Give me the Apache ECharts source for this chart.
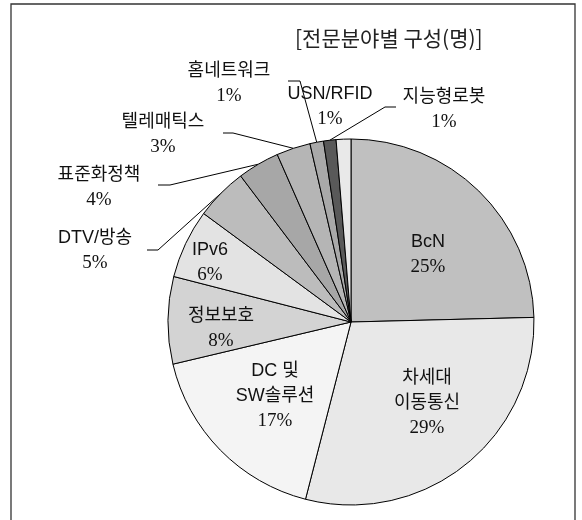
<!DOCTYPE html>
<html><head><meta charset="utf-8">
<script src="https://cdn.jsdelivr.net/npm/echarts@6/dist/echarts.min.js"></script>
<style>html,body{margin:0;padding:0;background:#fff}#c{width:582px;height:520px}</style>
</head><body><div id="c"></div>
<script>
const chartTitle = '[전문분야별 구성(명)]';
const categories = ['BcN', '차세대\n이동통신', 'DC 및\nSW솔루션', '정보보호', 'IPv6', 'DTV/방송', '표준화정책', '텔레매틱스', '홈네트워크', '지능형로봇', 'USN/RFID'];
const shares = [24.6, 29.4, 17.3, 7.7, 6.1, 4.6, 3.7, 3.0, 1.2, 1.1, 1.3];
const sliceColors = ['#c0c0c0', '#e8e8e8', '#f4f4f4', '#d3d3d3', '#e3e3e3', '#bcbcbc', '#a7a7a7', '#b5b5b5', '#a9a9a9', '#595959', '#e9e9e9'];
const insideLabels = [true, true, true, true, true, false, false, false, false, false, false];

// annotation layout (label centres and leader-line elbows, in px)
const labelAnchors = [[428, 254.5], [427, 403], [275, 396], [221, 328.5], [210, 262.5], [95, 250.5], [99, 187.5], [163, 135], [229, 83.5], [444, 109.5], [330, 107]];
const leaderElbows = [null, null, null, null, null, [[158, 250], [147, 250]], [[170, 185], [158, 185]], [[233, 133], [223, 133]], [[300, 81], [288, 81]], [[385, 107], [396, 107]], null];

const chart = echarts.init(document.getElementById('c'), null, {renderer: 'canvas'});
const sansFont = '"Liberation Sans","Noto Sans CJK KR",sans-serif';
const serifFont = '"Liberation Serif","Noto Serif CJK KR",serif';

const data = categories.map((name, i) => ({
  name: name,
  value: shares[i],
  itemStyle: {color: sliceColors[i]},
  label: {position: insideLabels[i] ? 'inside' : 'outside'},
  labelLine: {show: !insideLabels[i] && leaderElbows[i] !== null}
}));

chart.setOption({
  backgroundColor: '#fff',
  animation: false,
  title: {
    text: chartTitle,
    left: 295, top: 26, padding: 0,
    textStyle: {fontFamily: '"Noto Sans CJK KR",sans-serif', fontSize: 21, fontWeight: 'normal', color: '#222', lineHeight: 24}
  },
  graphic: [{
    type: 'rect', silent: true, z: -1,
    shape: {x: 11, y: 4, width: 564, height: 540},
    style: {fill: 'none', stroke: '#333', lineWidth: 1.3}
  }],
  series: [{
    type: 'pie',
    center: [351, 322],
    radius: [0, 183],
    startAngle: 90,
    clockwise: true,
    percentPrecision: 0,
    avoidLabelOverlap: false,
    silent: true,
    itemStyle: {borderColor: '#000', borderWidth: 1},
    label: {
      color: '#111',
      formatter: p => p.name.split('\n').map(s => '{n|' + s + '}').join('\n') + '\n{p|' + p.percent + '%}',
      rich: {
        n: {fontFamily: sansFont, fontSize: 18, color: '#111', lineHeight: 25, align: 'center'},
        p: {fontFamily: serifFont, fontSize: 19, color: '#111', lineHeight: 25, align: 'center'}
      }
    },
    labelLine: {lineStyle: {color: '#000', width: 1}, length: 10, length2: 10},
    labelLayout: function (params) {
      const i = params.dataIndex;
      const res = {x: labelAnchors[i][0], y: labelAnchors[i][1], align: 'center', verticalAlign: 'middle'};
      if (leaderElbows[i] && params.labelLinePoints) {
        res.labelLinePoints = [params.labelLinePoints[0], leaderElbows[i][0], leaderElbows[i][1]];
      }
      return res;
    },
    data: data
  }]
});
</script></body></html>
